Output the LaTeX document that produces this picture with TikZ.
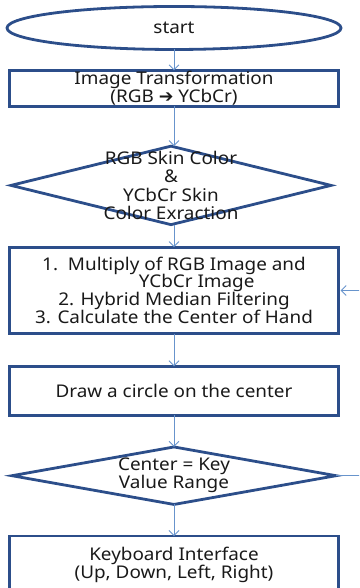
\documentclass[tikz,border=0pt]{standalone}
\usepackage{fontspec}
\setmainfont[FakeStretch=1.08]{Noto Sans}
\newfontfamily\arrowfont{DejaVu Sans}
\usetikzlibrary{arrows.meta,positioning,shapes.geometric}
\definecolor{frameBlue}{RGB}{44,78,138}
\definecolor{flowBlue}{RGB}{104,148,204}
\colorlet{InkGray}{black!90}

\begin{document}
\begin{tikzpicture}[
      x=1pt,y=1pt,
      node distance=22.6pt,
      every node/.style={outer sep=0pt,text=InkGray,font=\fontsize{17.5}{17.5}\selectfont},
      procbox/.style={draw=frameBlue,line width=2.8pt,minimum width=329.2pt,align=center,inner sep=0.5pt},
      decision/.style={diamond,draw=frameBlue,line width=2.8pt,inner sep=0pt,minimum width=320pt},
      terminal/.style={ellipse,draw=frameBlue,line width=2.8pt,minimum width=334pt,minimum height=43pt},
      arr/.style={-{Straight Barb[length=5pt,width=10pt]},line width=0.9pt,flowBlue},
      link/.style={line width=0.9pt,flowBlue}
    ]
    \useasboundingbox (0,0) rectangle (359,588);
    \clip (0,0) rectangle (359,588);
    \node[terminal] (start) at (174,560) {start};
    \node[procbox,minimum height=35pt,font=\fontsize{17.5}{15.5}\selectfont,below=21pt of start] (convert)
      {Image Transformation\\(RGB {\arrowfont ➔} YCbCr)};
    \node[decision,minimum height=78.5pt,below=40pt of convert,xshift=-3pt] (skin) {};
    \node[align=center,font=\fontsize{17.5}{18.5}\selectfont] (skintext) at (skin)
      {RGB Skin Color\\\&\\YCbCr Skin\\Color Exraction};
    \node[procbox,minimum height=86.5pt,below=of skin,xshift=3pt] (filter)
      {1.\ \ Multiply of RGB Image and\\\hspace*{2.6em}YCbCr Image\\2. Hybrid Median Filtering\\3. Calculate the Center of Hand};
    \node[procbox,minimum height=49pt,below=32.6pt of filter] (mark) {Draw a circle on the center};
    \node[decision,minimum height=57.5pt,minimum width=324pt,below=31.6pt of mark] (keytest) {};
    \node[align=center,font=\fontsize{17.5}{18}\selectfont] (keytesttext) at (keytest)
      {Center = Key\\Value Range};
    \node[procbox,minimum height=58pt,font=\fontsize{17.5}{18}\selectfont,below=31.6pt of keytest] (keyboard)
      {Keyboard Interface\\(Up, Down, Left, Right)};
    % main flow
    \draw[arr] (start) -- (convert);
    \draw[arr] (convert) -- (convert |- skin.north);
    \draw[arr] (skin.south -| convert) -- (filter);
    \draw[arr] (filter) -- (mark);
    \draw[arr] (mark) -- (keytest);
    \draw[arr] (keytest) -- (keyboard);
    % loop back on the right
    \coordinate[right=24pt of filter.east] (loopin);
    \coordinate[right=26pt of keytest.east] (loopout);
    \draw[arr,shorten >=2pt] (loopin) -- (filter.east);
    \draw[link] (keytest.east) -- (loopout);
  \end{tikzpicture}
\end{document}
